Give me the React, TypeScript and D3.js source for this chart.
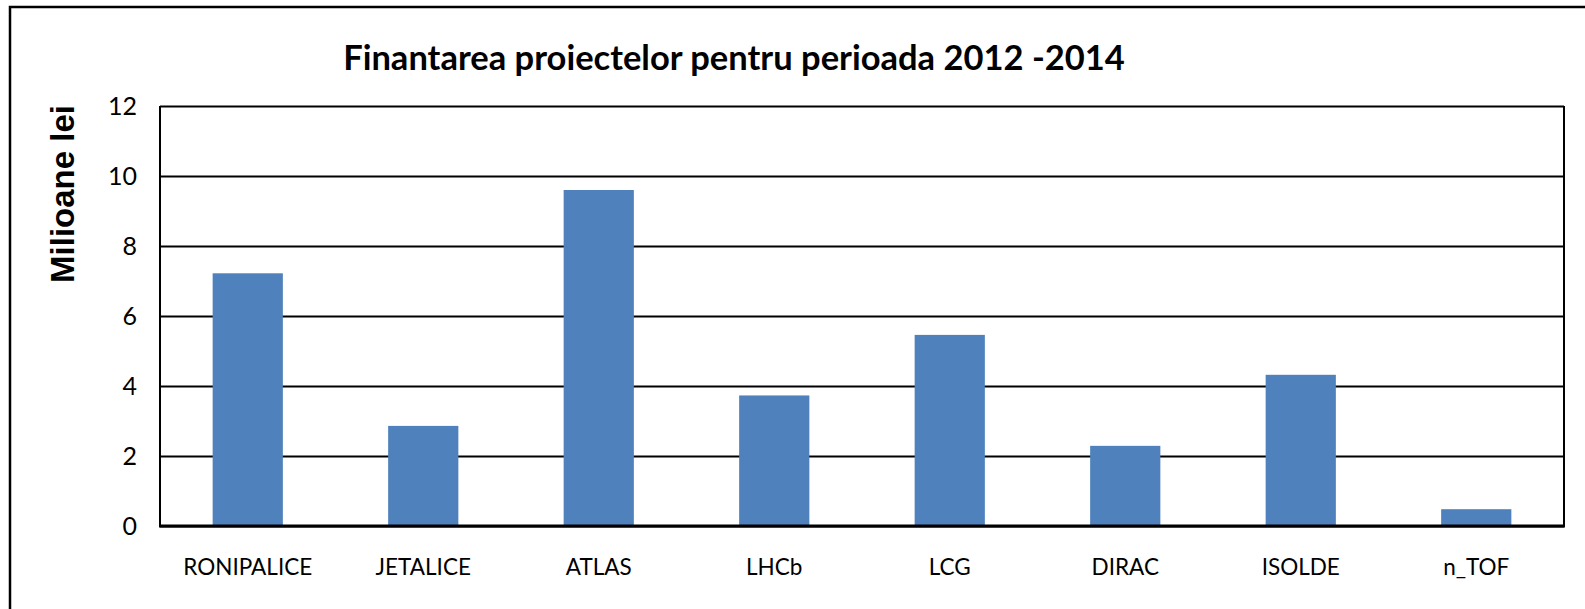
import React, { useEffect, useRef } from 'react';
import * as d3 from 'd3';

const categories = ['RONIPALICE', 'JETALICE', 'ATLAS', 'LHCb', 'LCG', 'DIRAC', 'ISOLDE', 'n_TOF'];
const values = [7.22, 2.86, 9.6, 3.73, 5.46, 2.29, 4.32, 0.48];
const yTicks = [0, 2, 4, 6, 8, 10, 12];
const title = 'Finantarea proiectelor pentru perioada 2012 -2014';
const yLabel = 'Milioane lei';

function App() {
    const svgRef = useRef<SVGSVGElement | null>(null);

    useEffect(() => {
        const width = 1585;
        const height = 609;
        const plot = { left: 160, right: 1564, top: 106, bottom: 526 };

        const svg = d3.select(svgRef.current);
        svg.html(''); // bersihkan render sebelumnya

        // bingkai exterior al graficului
        svg.append('rect')
            .attr('x', 10).attr('y', 7)
            .attr('width', width).attr('height', height)
            .attr('fill', '#fff')
            .attr('stroke', '#000')
            .attr('stroke-width', 2.5);

        const x = d3.scaleBand<string>()
            .domain(categories)
            .range([plot.left, plot.right])
            .paddingInner(0.6)
            .paddingOuter(0.3);

        const y = d3.scaleLinear()
            .domain([0, 12])
            .range([plot.bottom, plot.top]);

        // grila + axa Y
        const yAxis = svg.append('g')
            .attr('transform', `translate(${plot.left},0)`)
            .call(d3.axisLeft(y).tickValues(yTicks).tickSize(-(plot.right - plot.left)).tickPadding(23));
        yAxis.select('.domain').remove();
        yAxis.selectAll('line').attr('stroke', '#000').attr('stroke-width', 2);
        yAxis.selectAll('text')
            .attr('fill', '#000')
            .style('font-family', 'Lato, "Open Sans", sans-serif')
            .style('font-size', '25px');

        // bare
        svg.append('g')
            .selectAll('rect')
            .data(values)
            .join('rect')
            .attr('x', (_, i) => x(categories[i]) as number)
            .attr('y', d => y(d))
            .attr('width', x.bandwidth())
            .attr('height', d => y(0) - y(d))
            .attr('fill', '#4F81BD');

        // chenarul zonei de desenare
        svg.append('line')
            .attr('x1', plot.left).attr('x2', plot.left)
            .attr('y1', plot.top).attr('y2', plot.bottom)
            .attr('stroke', '#000').attr('stroke-width', 2);
        svg.append('line')
            .attr('x1', plot.right).attr('x2', plot.right)
            .attr('y1', plot.top).attr('y2', plot.bottom)
            .attr('stroke', '#000').attr('stroke-width', 2);
        svg.append('line')
            .attr('x1', plot.left - 1).attr('x2', plot.right + 1)
            .attr('y1', plot.bottom).attr('y2', plot.bottom)
            .attr('stroke', '#000').attr('stroke-width', 3);

        // axa X
        const xAxis = svg.append('g')
            .attr('transform', `translate(0,${plot.bottom})`)
            .call(d3.axisBottom(x).tickSize(0).tickPadding(33));
        xAxis.select('.domain').remove();
        xAxis.selectAll('text')
            .attr('fill', '#000')
            .style('font-family', 'Lato, "Open Sans", sans-serif')
            .style('font-size', '22.5px');

        // titlu
        svg.append('text')
            .attr('x', 734)
            .attr('y', 70)
            .attr('text-anchor', 'middle')
            .style('font-family', 'Lato, "Open Sans", sans-serif')
            .style('font-weight', 'bold')
            .style('font-size', '34.5px')
            .text(title);

        // eticheta axei Y
        svg.append('text')
            .attr('transform', 'translate(74,194) rotate(-90)')
            .attr('text-anchor', 'middle')
            .style('font-family', '"Liberation Sans", Arial, sans-serif')
            .style('font-weight', 'bold')
            .style('font-size', '33px')
            .text(yLabel);
    }, []);

    return (
        <svg
            ref={svgRef}
            width={1585}
            height={609}
            style={{ position: 'absolute', left: 0, top: 0, display: 'block', background: '#fff' }}
        ></svg>
    );
}

export default App;
